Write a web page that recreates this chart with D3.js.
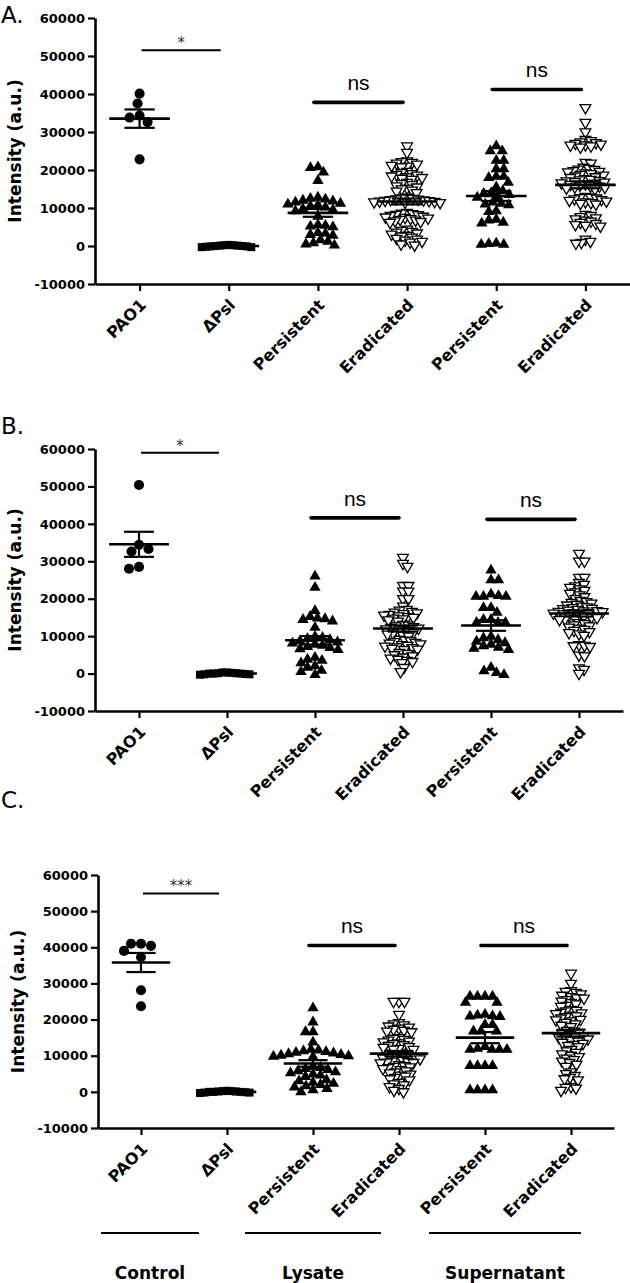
<!DOCTYPE html>
<html>
<head>
<meta charset="utf-8">
<script src="https://cdn.jsdelivr.net/npm/d3@7"></script>
<style>
  body { margin: 0; background: #fff; }
  svg { display: block; }
</style>
</head>
<body>
<svg id="chart" width="630" height="1283"></svg>
<script>
// categories and ticks
const categories = ["PAO1", "\u0394Psl", "Persistent", "Eradicated", "Persistent", "Eradicated"];
const yTicks = [-10000, 0, 10000, 20000, 30000, 40000, 50000, 60000];
const groupLabels = ["Control", "Lysate", "Supernatant"];

// ---- panel A values (a.u.)
const aPao1 = [40100, 37500, 33800, 34300, 32600, 22800];
const aDpsl = [200, -300, 0, 100, -200, 300, -100, 0, 200, -300, 100, -100];
const aLysP = [20800, 20600, 19400, 17200, 12800, 12500, 12300, 12000, 11800, 11500, 11200, 11000,
  10800, 10500, 10200, 9800, 9500, 9200, 7800, 5600, 5200, 5000, 5400, 3500, 3000, 2800, 3300,
  1600, 800, 500, 200, 1200];
const aLysE = [26300, 24600,
  22400, 22200, 22000, 21800, 21500, 21200, 21000, 20800,
  19600, 19300, 19000, 18800, 18600, 18400, 18200, 18000, 17800, 17500,
  16700, 16400, 16100, 15800, 15500, 15200, 15000, 14700, 14400, 14000,
  12800, 12600, 12500, 12400, 12300, 12200, 12100, 12000, 11900, 11800, 11700, 11600, 11500, 11400,
  8800, 8600, 8500, 8300, 8200, 8000, 7800, 7600, 7500, 7300, 7200, 7000, 6800, 6600, 6400, 6200,
  4400, 4100, 3800, 3600, 3400, 3100, 2800, 2600, 2300, 2000, 1800, 1500, 1200, 1000,
  500, 200];
const aSupP = [26300, 25000, 25000, 22500, 22500, 20300, 20300, 18300, 18300, 18000, 16700, 15500,
  14500, 14000, 13800, 13500, 13000, 12800, 11500, 11200, 11000, 10800, 9200, 9000, 7000, 6200,
  6000, 6800, 600, 400, 400, 700];
const aSupE = [36400, 32500, 30000,
  28000, 27700, 27400, 27000, 26800, 26500, 26300, 26000, 27200, 26600,
  22000, 21800,
  20700, 20400, 20100, 19800, 19500, 19200, 19000, 18800, 18600, 18400, 20200, 19600,
  18000, 17700, 17400, 17100, 16800, 16500, 16300, 16000, 15800, 15500, 15200, 15000, 17200, 16600, 15700,
  16900, 16200, 17500, 18200, 15400,
  13000, 12800, 12600, 12400, 12200, 12000, 11800, 11600, 11400, 11200, 11000, 12700,
  8300, 8000, 7700, 7400, 7100, 6800, 6500, 6200, 5900, 5600, 5400, 5200,
  1800, 1200, 900, 700];

// ---- panel B values
const bPao1 = [50400, 33300, 32600, 34400, 28000, 28500];
const bDpsl = [100, -200, 300, 0, -300, 200, -100, 0, 300, -200, 100, 0];
const bLysP = [26000, 23000, 16800, 15200, 14800, 14400, 14000, 14600, 12300,
  9900, 9600, 9300, 9000, 8700, 8400, 8100, 7800, 7500, 7200, 6900, 6600, 6400,
  4300, 3500, 2800, 1600, 800, 2000, 3800, -300, 500];
const bLysE = [31000, 29400, 28600,
  23500, 23500, 22000, 22000, 20000, 20000, 18000,
  17100, 16900, 16600, 16400, 16200, 16000, 15800, 15600, 15400, 15200, 15000, 14800, 14600, 14300, 14000,
  13100, 12900, 12700, 12500, 12300, 12100, 11900, 11700, 11500, 11200, 11000, 10800, 10500, 10200, 10000,
  9100, 8900, 8700, 8500, 8300, 8100, 7900, 7700, 7500, 7300, 7100, 6900, 6700, 6500, 6400,
  5600, 5300, 5000, 4700, 4400, 4100, 3800, 3500, 3200, 2900,
  1600, 500];
const bSupP = [27600, 25000, 25000, 21200, 20800, 20600, 20600, 20600, 17600, 17600, 16300, 14400,
  14400, 13600, 13600, 13600,
  9900, 9500, 9000, 8600, 8200, 7800, 7400, 7000, 6700, 6400,
  1600, 700, 200, -300];
const bSupE = [32100, 30000, 30000, 25700, 25700,
  24300, 23800, 23400, 23000, 22600, 22200, 21800, 21400, 21000, 20500, 20000, 19500, 19000, 18500, 18000,
  19200, 18800, 18300, 17800, 17600, 17400, 17300, 16800, 16600, 16200,
  17100, 16900, 16700, 16500, 16300, 16100, 15900, 15700, 15500, 15300, 15100, 14900, 14700, 14500, 14400,
  13600, 13300, 13000, 12700, 12400, 12100, 11800, 11500, 11200, 10900, 10600, 10200,
  7700, 7500, 7400, 7200, 4900, 4700, 1500, 1100, 0];

// ---- panel C values
const cPao1 = [41000, 40400, 39000, 41000, 37300, 28100, 23700];
const cDpsl = [0, 200, -200, 100, -300, 300, 0, -100, 200, -200, 100, 0];
const cLysP = [23200, 19300, 16600, 16600, 13700,
  11700, 11500, 11300, 11100, 10900, 10700, 10500, 10300, 10100, 9900, 9700, 9800,
  7000, 6700, 6400, 6100, 5800, 5500, 5200, 4900, 4600, 4200,
  3300, 3000, 2600, 2300, 2000, 1600, 1300, 900, 500, 0];
const cLysE = [25000, 25000, 25000, 21400,
  19100, 18800, 18500, 18200, 17900, 17600, 17300, 17000, 16800, 16600,
  15000, 14800, 14500, 14300, 14000, 13800, 13500, 13300, 13000, 12800, 12500, 12300, 12000, 11800, 11700,
  10300, 10100, 9900, 9700, 9500, 9300, 9100, 8900, 8700, 8500, 8300, 8200, 8100, 8000, 10000,
  7500, 7200, 7000, 6900,
  6700, 6400, 6100, 5800, 5500, 5200, 4900, 4600, 4300, 4000, 3600, 3300,
  2600, 2200, 1900, 1400, 900, 400, 0];
const cSupP = [26400, 26400, 26400, 26400, 24700, 24700, 21400, 21000, 20800, 21200, 20900, 18600,
  18600, 16800, 16800, 16800, 11700, 11700, 11700, 11700, 12500, 12000, 7200, 7200, 7200, 7200,
  500, 500, 500, 500];
const cSupE = [32800, 30000, 28000, 27800,
  27500, 27100, 26700, 26300, 25900, 25500, 25100, 24700, 24300, 23900, 23600, 26000,
  22800, 22400, 22000, 21600, 21200, 20800, 20400, 20000, 19600, 19200, 18800, 18400, 18000, 21800, 19900, 22500, 21000,
  17000, 16800, 16400, 16100, 15800, 15500, 15200, 14900, 14600, 14300, 14000, 13700, 13400, 13100, 12800, 12500, 15000,
  11700, 11300, 10900, 10500, 10100, 9700, 9300, 8900, 8500, 8100, 7600, 7000,
  5500, 5000, 4500, 4000, 3600, 3300,
  1400, 1200, 400, 1000];

// significance bars: [from, to, label, height in a.u.]
const aSig = [[0, 1, "*", 51500], [2, 3, "ns", 37800], [4, 5, "ns", 41200]];
const bSig = [[0, 1, "*", 59000], [2, 3, "ns", 41600], [4, 5, "ns", 41200]];
const cSig = [[0, 1, "***", 54900], [2, 3, "ns", 40500], [4, 5, "ns", 40500]];

const panels = [
  { letter: "A.", letterY: 23, series: [aPao1, aDpsl, aLysP, aLysE, aSupP, aSupE], sig: aSig,
    left: 95, right: 630, top: 18, bottom: 284 },
  { letter: "B.", letterY: 434, series: [bPao1, bDpsl, bLysP, bLysE, bSupP, bSupE], sig: bSig,
    left: 95, right: 623, top: 449, bottom: 711 },
  { letter: "C.", letterY: 808, series: [cPao1, cDpsl, cLysP, cLysE, cSupP, cSupE], sig: cSig,
    left: 98, right: 614, top: 875, bottom: 1128 }
];

const BOLD = "'DejaVu Sans', sans-serif";
const svg = d3.select("#chart");

// marker for each column
const markers = [
  { type: d3.symbolCircle, size: 80, fill: "#000", stroke: "none", rot: 0, d: 10 },
  { type: d3.symbolSquare, size: 64, fill: "#000", stroke: "none", rot: 0, d: 4.5 },
  { type: d3.symbolTriangle, size: 56, fill: "#000", stroke: "none", rot: 0, d: 7.5 },
  { type: d3.symbolTriangle, size: 50, fill: "#fff", stroke: "#000", rot: 180, d: 5.2 },
  { type: d3.symbolTriangle, size: 56, fill: "#000", stroke: "none", rot: 0, d: 7.5 },
  { type: d3.symbolTriangle, size: 50, fill: "#fff", stroke: "#000", rot: 180, d: 5.2 }
];

// simple beeswarm so points in the same band spread sideways
function swarm(values, y, d) {
  const pts = values.map(v => ({ v, py: y(v) })).sort((a, b) => a.py - b.py);
  const placed = [];
  pts.forEach((p, i) => {
    const sgn = i % 2 ? -1 : 1;
    for (let k = 0; ; k++) {
      const cands = k === 0 ? [0] : [sgn * k * 0.5, -sgn * k * 0.5];
      const ok = cands.find(c => placed.every(q => (q.dx - c) ** 2 + (q.py - p.py) ** 2 >= d * d));
      if (ok !== undefined) { p.dx = ok; break; }
    }
    placed.push(p);
  });
  return placed;
}

panels.forEach((P, pi) => {
  const g = svg.append("g");

  const x = d3.scalePoint().domain(d3.range(categories.length)).range([P.left, P.right]).padding(0.5);
  const y = d3.scaleLinear().domain([-10000, 60000]).range([P.bottom, P.top]);
  const half = x.step() * 0.34;

  g.append("text")
    .attr("x", 1).attr("y", P.letterY)
    .attr("font-family", "'DejaVu Sans', sans-serif")
    .attr("font-size", 23)
    .text(P.letter);

  // points
  P.series.forEach((vals, ci) => {
    const m = markers[ci];
    const sym = d3.symbol().type(m.type).size(m.size);
    g.append("g").selectAll("path")
      .data(swarm(vals, y, m.d))
      .join("path")
      .attr("d", sym)
      .attr("transform", p => `translate(${x(ci) + p.dx},${p.py}) rotate(${m.rot})`)
      .attr("fill", m.fill)
      .attr("stroke", m.stroke)
      .attr("stroke-width", 1.3);
  });

  // mean + SEM
  P.series.forEach((vals, ci) => {
    const mean = d3.mean(vals);
    const sem = d3.deviation(vals) / Math.sqrt(vals.length);
    const cx = x(ci);
    const mg = g.append("g").attr("stroke", "#000").attr("fill", "none");
    mg.append("line").attr("x1", cx - half).attr("x2", cx + half)
      .attr("y1", y(mean)).attr("y2", y(mean)).attr("stroke-width", 2.6);
    [mean - sem, mean + sem].forEach(v => {
      mg.append("line").attr("x1", cx - half * 0.5).attr("x2", cx + half * 0.5)
        .attr("y1", y(v)).attr("y2", y(v)).attr("stroke-width", 2.2);
    });
    mg.append("line").attr("x1", cx).attr("x2", cx)
      .attr("y1", y(mean - sem)).attr("y2", y(mean + sem)).attr("stroke-width", 2.2);
  });

  // y axis
  const ya = g.append("g")
    .attr("transform", `translate(${P.left},0)`)
    .call(d3.axisLeft(y).tickValues(yTicks).tickFormat(d => String(d)).tickSize(7).tickSizeOuter(0).tickPadding(3));
  ya.select(".domain").attr("stroke-width", 2.6);
  ya.selectAll(".tick line").attr("stroke-width", 2.2);
  ya.selectAll("text").attr("font-family", BOLD).attr("font-weight", "bold").attr("font-size", 13);

  g.append("text")
    .attr("transform", `translate(${P.left - 74},${(P.top + P.bottom) / 2}) rotate(-90)`)
    .attr("text-anchor", "middle")
    .attr("font-family", BOLD).attr("font-weight", "bold").attr("font-size", 17)
    .text("Intensity (a.u.)");

  // x axis
  const xa = g.append("g")
    .attr("transform", `translate(0,${P.bottom})`)
    .call(d3.axisBottom(x).tickFormat(i => categories[i]).tickSize(7).tickSizeOuter(0));
  xa.select(".domain").attr("stroke-width", 2.6);
  xa.selectAll(".tick line").attr("stroke-width", 2.2);
  xa.selectAll("text")
    .attr("font-family", BOLD).attr("font-weight", "bold").attr("font-size", 16)
    .attr("text-anchor", "end")
    .attr("y", 0).attr("dy", 0)
    .attr("transform", "translate(7,22) rotate(-45)");

  // significance bars
  P.sig.forEach(([a, b, label, h]) => {
    const star = label !== "ns";
    const x1 = star ? x(a) + 2 : x(a) - 4;
    const x2 = star ? x(b) - 8 : x(b) - 4;
    const yy = y(h);
    g.append("line").attr("x1", x1).attr("x2", x2).attr("y1", yy).attr("y2", yy)
      .attr("stroke", "#000").attr("stroke-width", star ? 2 : 3.6).attr("stroke-linecap", star ? "butt" : "round");
    g.append("text")
      .attr("x", (x1 + x2) / 2).attr("y", star ? yy - 2 : yy - 12)
      .attr("text-anchor", "middle")
      .attr("font-family", star ? "'DejaVu Sans', sans-serif" : "'Liberation Sans', Arial, sans-serif")
      .attr("font-size", star ? 15 : 21)
      .attr("fill", star ? "#333" : "#000")
      .text(label);
  });
});

// group captions under panel C
const groupSpan = [[101, 199], [245, 381], [429, 581]];
groupLabels.forEach((lab, i) => {
  const [a, b] = groupSpan[i];
  svg.append("line").attr("x1", a).attr("x2", b).attr("y1", 1233).attr("y2", 1233)
    .attr("stroke", "#000").attr("stroke-width", 2);
  svg.append("text").attr("x", (a + b) / 2).attr("y", 1279)
    .attr("text-anchor", "middle")
    .attr("font-family", BOLD).attr("font-weight", "bold").attr("font-size", 17)
    .text(lab);
});
</script>
</body>
</html>
